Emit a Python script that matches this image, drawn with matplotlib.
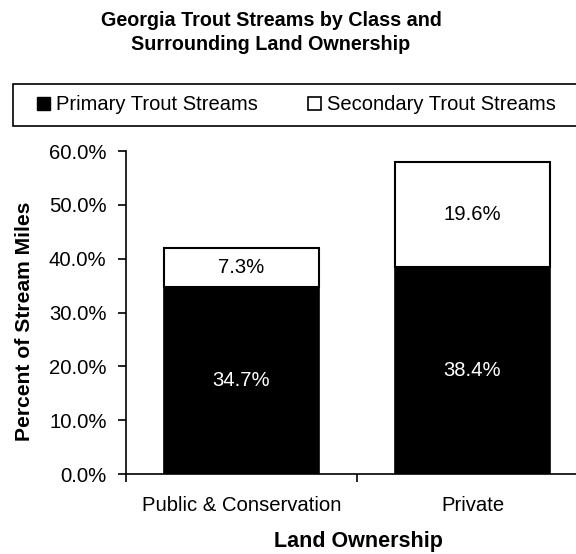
import matplotlib
matplotlib.use("Agg")
import matplotlib.pyplot as plt
from matplotlib.patches import Rectangle, Patch

plt.rcParams['font.family'] = ['Liberation Sans', 'DejaVu Sans']

categories = ["Public & Conservation", "Private"]
primary = [34.7, 38.4]
secondary = [7.3, 19.6]
series_names = ["Primary Trout Streams", "Secondary Trout Streams"]
yticks = [0, 10, 20, 30, 40, 50, 60]

W, H = 576, 554
fig = plt.figure(figsize=(W / 100, H / 100), dpi=100)

# plot area in pixel units, converted to figure fractions
left, right, top, bottom = 126, 588, 151, 474
ax = fig.add_axes([left / W, (H - bottom) / H, (right - left) / W, (bottom - top) / H])

x = list(range(len(categories)))
bw = 0.675
ax.bar(x, primary, width=bw, color="black", edgecolor="black", linewidth=1.2, zorder=2)
ax.bar(x, secondary, width=bw, bottom=primary, color="white", edgecolor="black",
       linewidth=1.5, zorder=2)

for xi, p, s in zip(x, primary, secondary):
    ax.text(xi, p / 2, f"{p:.1f}%", ha="center", va="center", color="white", fontsize=14.6)
    ax.text(xi, p + s / 2, f"{s:.1f}%", ha="center", va="center", color="black", fontsize=14.6)

ax.set_xlim(-0.5, len(categories) - 0.5)
ax.set_ylim(0, 60)
ax.set_yticks(yticks)
ax.set_yticklabels([f"{v:.1f}%" for v in yticks])
ax.set_xticks(x)
ax.set_xticklabels(categories)
ax.set_xticks([i - 0.5 for i in range(len(categories) + 1)], minor=True)

for s in ["top", "right"]:
    ax.spines[s].set_visible(False)
ax.spines["left"].set_linewidth(1.2)
ax.spines["bottom"].set_linewidth(1.2)
ax.tick_params(axis="y", direction="out", length=6, width=1.2, pad=8, labelsize=14.6)
ax.tick_params(axis="x", which="major", length=0, pad=16, labelsize=14.6)
ax.tick_params(axis="x", which="minor", direction="out", length=6, width=1.2)

fig.text(25 / W, 1 - 321 / H, "Percent of Stream Miles", rotation=90, ha="center",
         va="center", fontsize=15.2, fontweight="bold")
fig.text(358 / W, 1 - 542 / H, "Land Ownership", ha="center", va="center",
         fontsize=15.5, fontweight="bold")
fig.text(271 / W, 1 - 20 / H, "Georgia Trout Streams by Class and", ha="center",
         va="center", fontsize=14.2, fontweight="bold")
fig.text(271 / W, 1 - 44 / H, "Surrounding Land Ownership", ha="center",
         va="center", fontsize=14.2, fontweight="bold")

# legend box running off the right edge
fig.patches.append(Rectangle((13 / W, 1 - 126 / H), 600 / W, 42 / H,
                             transform=fig.transFigure, facecolor="white",
                             edgecolor="black", linewidth=1.2))
handles = [Patch(facecolor="black", edgecolor="black", linewidth=1),
           Patch(facecolor="white", edgecolor="black", linewidth=1.2)]
fig.legend(handles, series_names, loc="center left",
           bbox_to_anchor=(37 / W, 1 - 105 / H), ncol=2, frameon=False,
           fontsize=14.5, handlelength=0.65, handleheight=0.65,
           handletextpad=0.3, columnspacing=2.5, borderaxespad=0,
           borderpad=0)

fig.savefig("out.png", dpi=100)
